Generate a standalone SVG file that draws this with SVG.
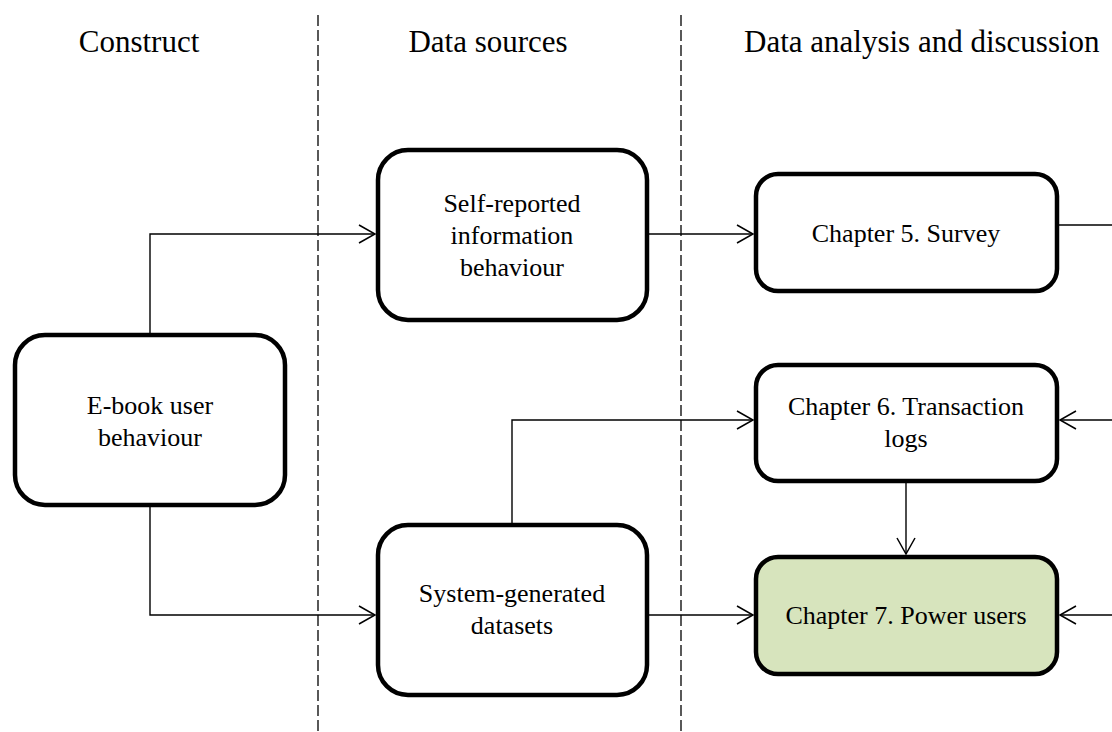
<svg xmlns="http://www.w3.org/2000/svg" width="1112" height="732" viewBox="0 0 1112 732">
  <style>
    .hdr { font-family: "Liberation Serif", "Times New Roman", serif; font-size: 31px; fill: #000; }
    .lbl { font-family: "Liberation Serif", "Times New Roman", serif; font-size: 26px; fill: #000; text-anchor: middle; }
    .box { fill: #fff; stroke: #000; stroke-width: 4.5; }
    .hl { fill: #d7e4bd; }
    .lane { stroke: #000; stroke-width: 1.3; stroke-dasharray: 11 4; fill: none; }
    .edge { stroke: #000; stroke-width: 1.4; fill: none; }
    .arr { marker-end: url(#open); }
  </style>
  <defs>
    <marker id="open" markerUnits="userSpaceOnUse" markerWidth="24" markerHeight="24" viewBox="-18 -12 20 24" refX="0" refY="0" orient="auto">
      <path d="M-16,-9 L0,0 L-16,9" fill="none" stroke="#000" stroke-width="1.5"/>
    </marker>
  </defs>

  <rect width="1112" height="732" fill="#fff"/>

  <!-- swimlane headers and dividers -->
  <g id="lanes">
    <text class="hdr" x="139" y="52" text-anchor="middle">Construct</text>
    <text class="hdr" x="488" y="52" text-anchor="middle">Data sources</text>
    <text class="hdr" x="744" y="52">Data analysis and discussion</text>
    <line class="lane" x1="318" y1="15" x2="318" y2="732"/>
    <line class="lane" x1="681" y1="15" x2="681" y2="732"/>
  </g>

  <!-- connectors -->
  <g id="connectors">
    <path class="edge arr" d="M150,335 V234 H375"/>
    <path class="edge arr" d="M150,505 V615 H375"/>
    <path class="edge arr" d="M647,234 H753"/>
    <path class="edge arr" d="M512,525 V420 H753"/>
    <path class="edge arr" d="M647,615 H753"/>
    <path class="edge arr" d="M906,481 V554"/>
    <path class="edge" d="M1057,225 H1112"/>
    <path class="edge arr" d="M1112,420 H1060"/>
    <path class="edge arr" d="M1112,615 H1060"/>
  </g>

  <g id="ebook">
    <rect class="box" x="15" y="335" width="270" height="170" rx="30"/>
    <text class="lbl" x="150" y="414">E-book user</text>
    <text class="lbl" x="150" y="446">behaviour</text>
  </g>

  <g id="self-reported">
    <rect class="box" x="378" y="150" width="269" height="170" rx="30"/>
    <text class="lbl" x="512" y="212">Self-reported</text>
    <text class="lbl" x="512" y="244">information</text>
    <text class="lbl" x="512" y="276">behaviour</text>
  </g>

  <g id="system-generated">
    <rect class="box" x="378" y="525" width="269" height="170" rx="30"/>
    <text class="lbl" x="512" y="602">System-generated</text>
    <text class="lbl" x="512" y="634">datasets</text>
  </g>

  <g id="ch5">
    <rect class="box" x="756" y="174" width="301" height="117" rx="22"/>
    <text class="lbl" x="906" y="242">Chapter 5. Survey</text>
  </g>

  <g id="ch6">
    <rect class="box" x="756" y="365" width="301" height="116" rx="22"/>
    <text class="lbl" x="906" y="415">Chapter 6. Transaction</text>
    <text class="lbl" x="906" y="447">logs</text>
  </g>

  <g id="ch7">
    <rect class="box hl" x="756" y="557" width="301" height="117" rx="22"/>
    <text class="lbl" x="906" y="624">Chapter 7. Power users</text>
  </g>
</svg>
